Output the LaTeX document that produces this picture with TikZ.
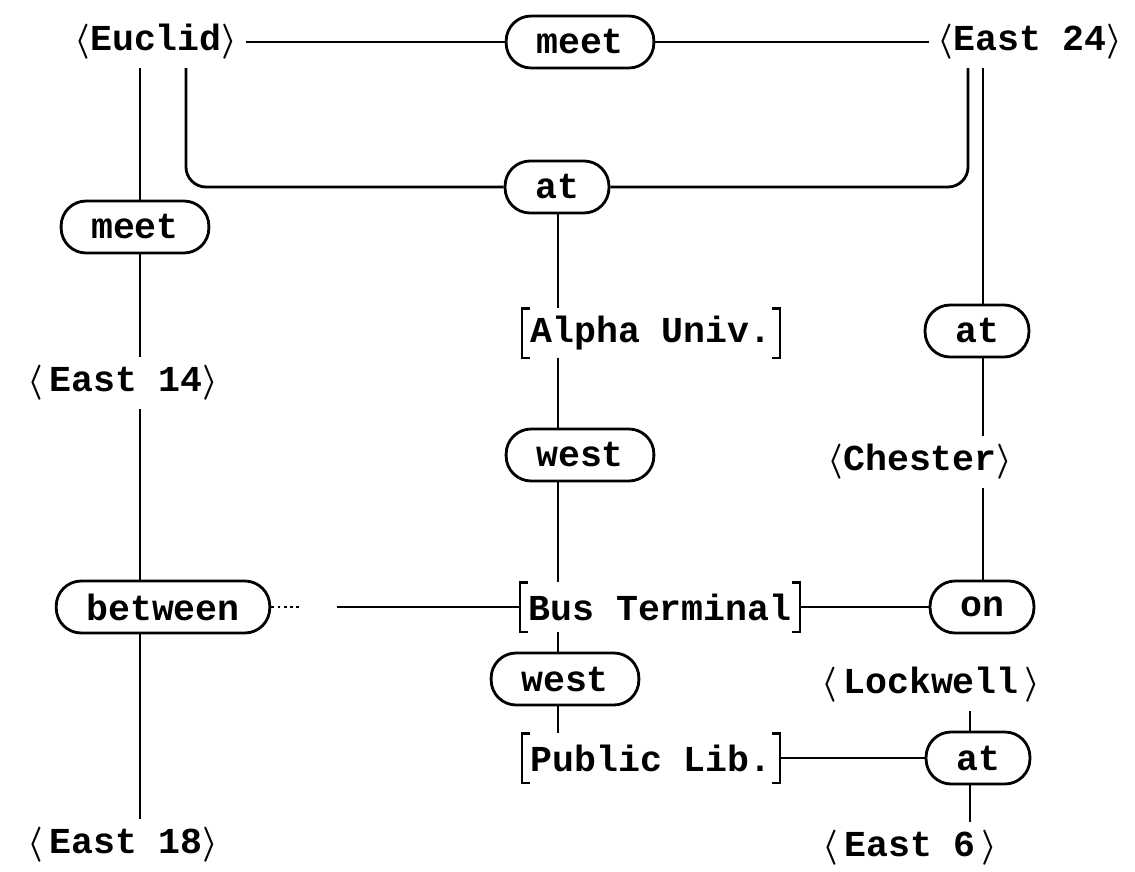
\documentclass[tikz,border=0pt]{standalone}
\usepackage{bm}
\usepackage{fontspec}
\setmonofont{Liberation Mono}
\usepackage{tikz}
\usetikzlibrary{calc}
\newcommand{\street}[1]{$\bm{\langle}$#1$\bm{\rangle}$}
\tikzset{
  every node/.style={font=\ttfamily\bfseries\fontsize{10.4}{12}\selectfont},
  relbox/.style={draw,line width=0.8pt,rounded corners=0.25cm,minimum height=0.52cm,
    inner xsep=0.3cm,inner ysep=0pt},
  streetlbl/.style={inner sep=2pt},
  sitebox/.style={inner xsep=2pt,inner ysep=0pt,minimum height=0.47cm},
}
\begin{document}
\begin{tikzpicture}[x=1cm,y=1cm,line width=0.8pt]
\useasboundingbox (0,0) rectangle (11.35,8.71);
% columns of the vertical links
\coordinate (c0) at (1.86,0);
\coordinate (c1) at (1.40,0);
\coordinate (c2) at (5.58,0);
\coordinate (c3) at (9.83,0);
\coordinate (c4) at (9.70,0);
\coordinate (c5) at (9.68,0);
\coordinate (gapL) at (3.02,0);
\coordinate (gapR) at (3.37,0);

% streets
\node[streetlbl] (euclid) at (1.56,8.29) {\street{Euclid}};
\node[streetlbl] (east24) at (10.30,8.29) {\street{East 24}};
\node[streetlbl] (east14) at (1.23,4.88) {\street{\,East 14}};
\node[streetlbl] (chester) at (9.20,4.09) {\street{Chester}};
\node[streetlbl] (lockwell) at (9.31,1.86) {\street{\,Lockwell\,}};
\node[streetlbl] (east18) at (1.23,0.26) {\street{\,East 18}};
\node[streetlbl] (east6) at (9.10,0.23) {\street{\,East 6\,}};

% relations
\node[relbox] (meetT) at (5.80,8.29) {meet};
\node[relbox] (atT) at (5.57,6.84) {at};
\node[relbox] (meetL) at (1.35,6.44) {meet};
\node[relbox] (atR) at (9.77,5.40) {at};
\node[relbox] (westA) at (5.80,4.16) {west};
\node[relbox] (between) at (1.63,2.64) {between};
\node[relbox] (on) at (9.82,2.64) {on};
\node[relbox] (westB) at (5.65,1.92) {west};
\node[relbox] (atL) at (9.78,1.13) {at};

% buildings
\node[sitebox] (alpha) at (6.51,5.38) {Alpha Univ.};
\node[sitebox] (bus) at (6.60,2.64) {Bus Terminal};
\node[sitebox] (public) at (6.51,1.13) {Public Lib.};
\foreach \s in {alpha,bus,public}{
  \draw ([xshift=0.08cm]\s.north west) -| (\s.south west) -- ++(0.08,0);
  \draw ([xshift=-0.08cm]\s.north east) -| (\s.south east) -- ++(-0.08,0);
}

% links
\draw (euclid) -- (meetT);
\draw (meetT) -- (east24);
\draw[rounded corners=0.2cm] (euclid.south -| c0) |- (atT.west);
\draw[rounded corners=0.2cm] (east24.south -| c5) |- (atT.east);
\draw (euclid.south -| c1) -- (meetL.north -| c1);
\draw (meetL.south -| c1) -- (east14.north -| c1);
\draw (east14.south -| c1) -- (between.north -| c1);
\draw (between.south -| c1) -- (east18.north -| c1);
\draw (atT.south -| c2) -- (alpha.north -| c2);
\draw (alpha.south -| c2) -- (westA.north -| c2);
\draw (westA.south -| c2) -- (bus.north -| c2);
\draw (bus.south -| c2) -- (westB.north -| c2);
\draw (westB.south -| c2) -- (public.north -| c2);
\draw (east24.south -| c3) -- (atR.north -| c3);
\draw (atR.south -| c3) -- (chester.north -| c3);
\draw (chester.south -| c3) -- (on.north -| c3);
\draw (bus) -- (on);
\draw[densely dotted] (between.east) -- (between.east -| gapL);
\draw (between.east -| gapR) -- (bus.west);
\draw (public) -- (atL);
\draw (lockwell.south -| c4) -- (atL.north -| c4);
\draw (atL.south -| c4) -- (east6.north -| c4);
\end{tikzpicture}
\end{document}
